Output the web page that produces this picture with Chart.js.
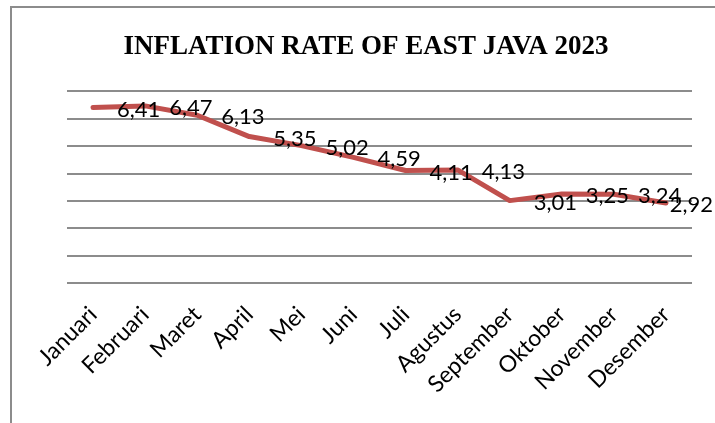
<!DOCTYPE html>
<html>
<head>
<meta charset="utf-8">
<script src="https://cdn.jsdelivr.net/npm/chart.js@4.4.1/dist/chart.umd.min.js"></script>
<style>
  html, body { margin: 0; padding: 0; background: #ffffff; }
  #wrap { position: relative; width: 715px; height: 423px; }
</style>
</head>
<body>
<div id="wrap"><canvas id="c" width="715" height="423"></canvas></div>
<script>
const categories = ['Januari', 'Februari', 'Maret', 'April', 'Mei', 'Juni', 'Juli', 'Agustus', 'September', 'Oktober', 'November', 'Desember'];
const inflationRate = [6.41, 6.47, 6.13, 5.35, 5.02, 4.59, 4.11, 4.13, 3.01, 3.25, 3.24, 2.92];
const yTicks = [0, 1, 2, 3, 4, 5, 6, 7];
const titleText = 'INFLATION RATE OF EAST JAVA 2023';

const framePlugin = {
  id: 'frame',
  beforeDraw(chart) {
    const ctx = chart.ctx;
    ctx.save();
    ctx.strokeStyle = '#8c8c8c';
    ctx.lineWidth = 2;
    ctx.beginPath();
    ctx.moveTo(11, 423);
    ctx.lineTo(11, 7);
    ctx.lineTo(715, 7);
    ctx.stroke();
    ctx.restore();
  }
};

const labelPlugin = {
  id: 'pointLabels',
  afterDatasetsDraw(chart) {
    const ctx = chart.ctx;
    const meta = chart.getDatasetMeta(0);
    const data = chart.data.datasets[0].data;
    ctx.save();
    ctx.font = '22px Lato';
    ctx.fillStyle = '#000000';
    ctx.textAlign = 'left';
    ctx.textBaseline = 'middle';
    meta.data.forEach((pt, i) => {
      const txt = data[i].toFixed(2).replace('.', ',');
      const w = ctx.measureText(txt).width;
      const x = Math.min(pt.x + 24, chart.width - 2 - w);
      ctx.fillText(txt, x, pt.y + 2);
    });
    ctx.restore();
  }
};

new Chart(document.getElementById('c'), {
  type: 'line',
  data: {
    labels: categories,
    datasets: [{
      data: inflationRate,
      borderColor: '#c0504d',
      borderWidth: 5,
      borderCapStyle: 'round',
      borderJoinStyle: 'round',
      pointRadius: 0,
      tension: 0,
      fill: false
    }]
  },
  options: {
    responsive: false,
    animation: false,
    layout: { padding: { left: 40, right: 23, top: 0, bottom: 0 } },
    plugins: {
      legend: { display: false },
      tooltip: { enabled: false },
      title: {
        display: true,
        text: titleText,
        color: '#000000',
        font: { family: '"Liberation Serif", "Times New Roman", serif', size: 27, weight: 'bold' },
        padding: { top: 31, bottom: 28 }
      }
    },
    scales: {
      x: {
        offset: true,
        grid: { display: false },
        border: { display: false },
        ticks: {
          minRotation: 45,
          maxRotation: 45,
          padding: 10,
          color: '#000000',
          font: { family: 'Lato', size: 23 }
        },
        afterFit(scale) { scale.height = 140; }
      },
      y: {
        min: yTicks[0],
        max: yTicks[yTicks.length - 1],
        afterBuildTicks(scale) { scale.ticks = yTicks.map(v => ({ value: v })); },
        grid: { color: '#8c8c8c', lineWidth: 2, drawTicks: false },
        border: { display: false },
        ticks: { display: false },
        afterFit(scale) { scale.width = 27; }
      }
    }
  },
  plugins: [framePlugin, labelPlugin]
});
</script>
</body>
</html>
